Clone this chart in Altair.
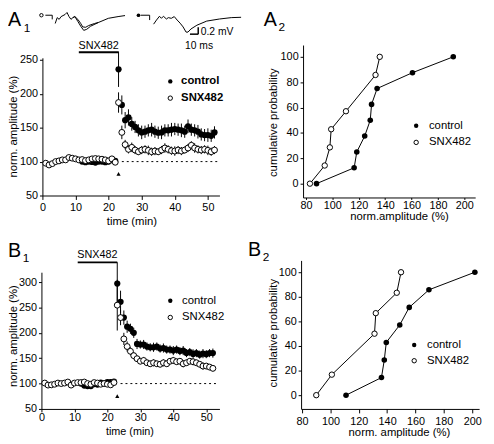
import altair as alt
import pandas as pd

FONT = "Liberation Sans"
W_ALL, H_ALL = 486, 436   # drawing area (page minus the 8px margin)

# ---------------- A1: time course ----------------
a1_snx_t = list(range(1, 53))
a1_snx = [97.6, 95, 97, 100, 101, 102.5, 102.5, 106, 105, 104, 102.5, 103, 101.5, 102.5, 104, 104.5, 104, 103.5, 102.5, 101, 104, 99,
          187, 143, 125, 118, 121, 117, 114.5, 117, 118, 116.5, 114.5, 115.5, 114.5, 117, 120, 118, 116, 115.5, 117, 115.5,
          117, 120, 124, 120, 118, 117, 118, 116.5, 114.5, 117]
a1_snx_e = [2, 2, 2, 2, 2, 2, 2, 2, 2, 2, 2, 2, 2, 2, 2, 2, 2, 2, 2, 2, 2, 2,
            15, 10, 7, 6, 7, 6, 5, 6, 6, 7, 6, 6, 5, 6, 7, 6, 6, 7, 6, 6, 5, 6, 6, 7, 6, 6, 6, 7, 6, 6]
a1_ctl_t = list(range(12, 53))
a1_ctl = [100, 99, 100, 99.5, 98.5, 100, 100, 99, 100, 102, 101,
          236, 183.5, 161, 165, 155.5, 151, 146, 143, 144, 146, 147, 144, 142.5, 143, 146, 146, 147, 148, 147, 146,
          144, 152, 147, 146, 144, 140, 139, 139, 138, 143]
a1_ctl_e = [3, 3, 3, 3, 3, 3, 3, 3, 3, 3, 3,
            26, 14, 12, 12, 10, 9, 9, 10, 9, 9, 10, 9, 9, 10, 9, 9, 10, 9, 9, 10, 9, 10, 9, 9, 10, 9, 9, 10, 9, 9]

# ---------------- B1: time course ----------------
b1_snx_t = list(range(1, 53))
b1_snx = [101, 97, 97.5, 98.7, 101, 100, 101, 103, 97, 101, 102, 102, 103, 100, 98.7, 102, 101, 98.7, 100, 98.7, 97.5, 102,
          254.5, 230, 188, 173, 163.6, 155, 149, 144, 145.5, 141, 139, 141, 139, 138, 141, 139, 144, 145.5, 143, 144,
          139, 141, 144, 143, 141, 138, 134.5, 134.5, 132.5, 130]
b1_snx_e = [2.5, 2.5, 2.5, 2.5, 2.5, 2.5, 2.5, 2.5, 2.5, 2.5, 2.5, 2.5, 2.5, 2.5, 2.5, 2.5, 2.5, 2.5, 2.5, 2.5, 2.5, 2.5,
            50, 15, 12, 10, 8, 7, 6, 6, 7, 6, 6, 7, 6, 6, 7, 6, 6, 7, 6, 6, 7, 6, 6, 7, 6, 6, 7, 6, 6, 6]
b1_ctl_t = list(range(12, 53))
b1_ctl = [100, 96, 95, 95, 99, 98, 102, 101, 103, 103, 104,
          297, 261, 230, 212, 208, 200, 178, 177, 177, 173, 171.5, 171.5, 173, 169, 170, 167, 167, 165, 167, 164,
          165, 160, 162, 158.5, 160, 157, 159, 158, 160, 160]
b1_ctl_e = [3, 3, 3, 3, 3, 3, 3, 3, 3, 3, 3,
            42, 22, 14, 12, 10, 10, 10, 8, 9, 8, 8, 9, 8, 8, 9, 8, 8, 9, 8, 8, 9, 8, 8, 9, 8, 8, 9, 8, 8, 9]

# ---------------- A2 / B2: cumulative probability ----------------
a2_ctl_x = [88, 116.5, 118.5, 124.5, 128.7, 129.7, 133.9, 160.7, 191.6]
a2_ctl_p = [0, 12.5, 25, 37.5, 50, 62.5, 75, 87.5, 100]
a2_snx_x = [83, 94.2, 98.1, 99.1, 110.3, 132.7, 135.9]
a2_snx_p = [0, 14.3, 28.6, 42.9, 57.1, 85.7, 100]

b2_ctl_x = [111, 136, 138, 139.4, 148.9, 155.6, 169.5, 201.9]
b2_ctl_p = [0, 14.3, 28.6, 42.9, 57.1, 71.4, 85.7, 100]
b2_snx_x = [90, 101, 131.1, 132, 146.8, 149.8]
b2_snx_p = [0, 16.7, 50, 66.7, 83.3, 100]

# ---------------- A1 inset traces (ms, mV) ----------------
tr1_t = [0, 8.3, 8.3,
         11.9, 14.3, 16.7, 19, 23.8, 26.2, 28.6, 31, 33.3, 35.7, 39.3, 42.8, 46.4, 50, 54.7, 64.3, 76.2, 88, 96.4,
         33.3, 35.7, 39.3, 42.8, 45.2, 48.8, 52.4, 59.5, 64.3]
tr1_v = [0, 0, -0.12,
         -0.24, -0.07, -0.12, -0.04, 0.02, 0.08, -0.04, -0.12, -0.07, -0.04, -0.18, -0.32, -0.44, -0.41, -0.32, -0.21,
         -0.09, -0.04, -0.01,
         -0.07, -0.04, -0.12, -0.24, -0.34, -0.35, -0.3, -0.24, -0.21]
tr1_seg = ["a"] * 3 + ["b"] * 19 + ["c"] * 9
tr2_t = [0, 10.7, 10.7,
         15.5, 19, 22.6, 25, 27.4, 31, 33.3, 36.9, 40.5, 44, 47.6, 51.2, 54.8, 57.1, 60.7, 67.9, 79.8, 95.2, 109.5, 121.4]
tr2_v = [0, 0, -0.14,
         -0.26, -0.14, -0.03, -0.09, -0.03, -0.11, -0.07, -0.09, -0.04, -0.14, -0.23, -0.34, -0.49, -0.49, -0.4, -0.29,
         -0.17, -0.11, -0.07, -0.06]
tr2_seg = ["d"] * 3 + ["e"] * 20
TR2_SHIFT = 115.5


def P(v):
    """page pixel -> drawing-area pixel"""
    return v - 8


def errdf(t, v, e):
    return pd.DataFrame({"t": t, "v": v, "lo": [a - b for a, b in zip(v, e)], "hi": [a + b for a, b in zip(v, e)]})


ONE = pd.DataFrame({"a": [0]})


def txt(s, x, y, size=11.5, align="left", baseline="middle", angle=0, weight="normal"):
    return alt.Chart(ONE).mark_text(text=s, fontSize=size, align=align, baseline=baseline, font=FONT,
                                    angle=angle, fontWeight=weight, color="black").encode(
        x=alt.value(P(x)), y=alt.value(P(y)))


def dot(x, y, filled, size=20):
    if filled:
        m = alt.Chart(ONE).mark_circle(size=size, color="black", opacity=1)
    else:
        m = alt.Chart(ONE).mark_circle(size=size, fill="white", stroke="black", strokeWidth=1, opacity=1)
    return m.encode(x=alt.value(P(x)), y=alt.value(P(y)))


def legend(x, y1, y2, tx, weight="normal"):
    return [dot(x, y1, True), txt("control", tx, y1, weight=weight),
            dot(x, y2, False), txt("SNX482", tx, y2, weight=weight)]


def panel_label(letter, sub, x, y, sx, sy):
    return [txt(letter, x, y, size=20, baseline="alphabetic"),
            txt(sub, sx, sy, size=12, baseline="alphabetic")]


def axes(xdom, xr, ydom, yr, xvals, yvals, xt, xp, yt=3, yp=2):
    xs = alt.Scale(domain=xdom, range=[P(xr[0]), P(xr[1])], nice=False, zero=False)
    ys = alt.Scale(domain=ydom, range=[P(yr[0]), P(yr[1])], nice=False, zero=False)
    xa = alt.Axis(orient="bottom", offset=-(H_ALL - P(yr[0])), values=xvals, title=None, tickSize=xt,
                  labelPadding=xp, labelFlush=False, labelOverlap=False)
    ya = alt.Axis(orient="left", offset=-P(xr[0]), values=yvals, title=None, tickSize=yt,
                  labelPadding=yp, labelFlush=False, labelOverlap=False)
    return xs, ys, xa, ya


def time_panel(snx_t, snx_v, snx_e, ctl_t, ctl_v, ctl_e, xdom, xr, ydom, yr, yvals, xt, xp,
               bar_y, bar_txt_y, tri_y, extra):
    xs, ys, xa, ya = axes(xdom, xr, ydom, yr, [0, 10, 20, 30, 40, 50], yvals, xt, xp)
    X = lambda f: alt.X(f, scale=xs, axis=xa)
    Y = lambda f: alt.Y(f, scale=ys, axis=ya)
    dctl = errdf(ctl_t, ctl_v, ctl_e)
    dsnx = errdf(snx_t, snx_v, snx_e)
    ctl_err = alt.Chart(dctl).mark_rule(color="black", strokeWidth=1).encode(x=X("t:Q"), y=Y("lo:Q"), y2="hi:Q")
    ctl_pts = alt.Chart(dctl).mark_circle(size=40, color="black", opacity=1).encode(x=X("t:Q"), y=Y("v:Q"))
    snx_err = alt.Chart(dsnx).mark_rule(color="black", strokeWidth=1).encode(x=X("t:Q"), y=Y("lo:Q"), y2="hi:Q")
    snx_pts = alt.Chart(dsnx).mark_circle(size=36, fill="white", stroke="black", strokeWidth=1,
                                          opacity=1).encode(x=X("t:Q"), y=Y("v:Q"))
    base = alt.Chart(pd.DataFrame({"x1": [24], "x2": [53], "y": [100]})).mark_rule(
        color="black", strokeDash=[2, 3], strokeWidth=1).encode(x=X("x1:Q"), x2="x2:Q", y=Y("y:Q"))
    bar = alt.Chart(pd.DataFrame({"x1": [11], "x2": [23], "y": [bar_y]})).mark_rule(
        color="black", strokeWidth=2).encode(x=X("x1:Q"), x2="x2:Q", y=Y("y:Q"))
    bar_txt = alt.Chart(pd.DataFrame({"x": [17], "y": [bar_txt_y]})).mark_text(
        text="SNX482", fontSize=11, font=FONT, color="black", baseline="middle").encode(x=X("x:Q"), y=Y("y:Q"))
    tri = alt.Chart(pd.DataFrame({"x": [23], "y": [tri_y]})).mark_point(
        shape="triangle-up", filled=True, size=18, color="black", opacity=1).encode(x=X("x:Q"), y=Y("y:Q"))
    return alt.layer(base, bar, bar_txt, tri, ctl_err, ctl_pts, snx_err, snx_pts, *extra)


def cum_panel(cx, cp, sx, sp, xdom, xr, ydom, yr, xt, xp, extra):
    xs, ys, xa, ya = axes(xdom, xr, ydom, yr, [80, 100, 120, 140, 160, 180, 200], [0, 20, 40, 60, 80, 100], xt, xp)
    X = alt.X("x:Q", scale=xs, axis=xa)
    Y = alt.Y("p:Q", scale=ys, axis=ya)
    dc = pd.DataFrame({"x": cx, "p": cp})
    ds = pd.DataFrame({"x": sx, "p": sp})
    lc = alt.Chart(dc).mark_line(color="black", strokeWidth=1).encode(x=X, y=Y, order="p:Q")
    ls = alt.Chart(ds).mark_line(color="black", strokeWidth=1).encode(x=X, y=Y, order="p:Q")
    pc = alt.Chart(dc).mark_circle(size=32, color="black", opacity=1).encode(x=X, y=Y)
    ps = alt.Chart(ds).mark_circle(size=30, fill="white", stroke="black", strokeWidth=1, opacity=1).encode(x=X, y=Y)
    return alt.layer(lc, ls, pc, ps, *extra)


# ---------- A1 (page coords: x 43-223, y 55-195) ----------
A1 = time_panel(a1_snx_t, a1_snx, a1_snx_e, a1_ctl_t, a1_ctl, a1_ctl_e,
                [0, 53.5], [43, 223], [50, 252.9], [195, 55], [50, 100, 150, 200, 250], 4, 2,
                261.2, 270, 81.9,
                legend(173, 79, 96, 184, weight="bold")
                + panel_label("A", "1", 8, 23, 24, 29)
                + [txt("time (min)", 134, 222, align="center"),
                   txt("norm. amplitude (%)", 14, 125, align="center", angle=270)])

# ---------- B1 (page coords: x 42-223, y 273-412) ----------
B1 = time_panel(b1_snx_t, b1_snx, b1_snx_e, b1_ctl_t, b1_ctl, b1_ctl_e,
                [0, 54], [42, 223], [50, 319.4], [412, 273], [50, 100, 150, 200, 250, 300], 3, 0,
                338.8, 354, 75.2,
                legend(173, 302, 319, 185)
                + panel_label("B", "1", 8, 258, 23, 263)
                + [txt("time (min)", 132, 435, size=11, align="center"),
                   txt("norm. amplitude (%)", 14, 338, align="center", angle=270)])

# ---------- A2 (page coords: x 308-483, y 42-197) ----------
A2 = cum_panel(a2_ctl_x, a2_ctl_p, a2_snx_x, a2_snx_p,
               [77.8, 208.2], [308, 483], [-10.9, 109.3], [197, 42], 2, 0,
               legend(423, 124, 141, 436)
               + panel_label("A", "2", 268, 23, 283, 28)
               + [txt("norm.amplitude (%)", 406, 217, align="center"),
                  txt("cumulative probability", 279, 121, align="center", angle=270)])

# ---------- B2 (page coords: x 306-487, y 261-412) ----------
B2 = cum_panel(b2_ctl_x, b2_ctl_p, b2_snx_x, b2_snx_p,
               [79.3, 204.9], [306, 487], [-11.2, 109.6], [412, 261], 4, 3,
               legend(421, 347, 363, 434)
               + panel_label("B", "2", 252, 257, 267, 262)
               + [txt("norm. amplitude (%)", 406, 437, align="center"),
                  txt("cumulative probability", 278, 335, align="center", angle=270)])

# ---------- inset traces above A1 (own scales, ms and mV) ----------
tx = alt.Scale(domain=[0, 100], range=[P(46), P(46) + 84])
ty = alt.Scale(domain=[-0.5, 0], range=[P(11.7) + 17.5, P(11.7)])
TX = alt.X("ms:Q", scale=tx, axis=None)
TY = alt.Y("mv:Q", scale=ty, axis=None)
trdf = pd.DataFrame({"ms": tr1_t + [a + TR2_SHIFT for a in tr2_t],
                     "mv": tr1_v + tr2_v,
                     "seg": tr1_seg + tr2_seg})
tr_lines = alt.Chart(trdf).mark_line(color="black", strokeWidth=1).encode(
    x=TX, y=TY, detail="seg:N", order=alt.Order("ms:Q"))
tr_m1 = alt.Chart(pd.DataFrame({"ms": [-4.8], "mv": [0]})).mark_circle(
    size=12, fill="white", stroke="black", strokeWidth=1, opacity=1).encode(x=TX, y=TY)
tr_m2 = alt.Chart(pd.DataFrame({"ms": [112.7], "mv": [0]})).mark_circle(
    size=14, color="black", opacity=1).encode(x=TX, y=TY)
sb_h = alt.Chart(pd.DataFrame({"ms": [175], "ms2": [185], "mv": [-0.55]})).mark_rule(
    color="black", strokeWidth=1.5).encode(x=TX, x2="ms2:Q", y=TY)
sb_v = alt.Chart(pd.DataFrame({"ms": [185], "mv": [-0.55], "mv2": [-0.35]})).mark_rule(
    color="black", strokeWidth=1.5).encode(x=TX, y=TY, y2="mv2:Q")
sb_t1 = alt.Chart(pd.DataFrame({"ms": [188], "mv": [-0.5]})).mark_text(
    text="0.2 mV", fontSize=10.5, font=FONT, align="left", baseline="middle", color="black").encode(x=TX, y=TY)
sb_t2 = alt.Chart(pd.DataFrame({"ms": [186], "mv": [-0.9]})).mark_text(
    text="10 ms", fontSize=10.5, font=FONT, align="center", baseline="middle", color="black").encode(x=TX, y=TY)
traces = alt.layer(tr_lines, tr_m1, tr_m2, sb_h, sb_v, sb_t1, sb_t2)

chart = alt.layer(A1, B1, A2, B2, traces).resolve_scale(
    x="independent", y="independent"
).properties(
    width=W_ALL, height=H_ALL, padding=0, autosize=alt.AutoSizeParams(type="none")
).configure_axis(
    grid=False, domainColor="black", tickColor="black", labelColor="black",
    labelFont=FONT, labelFontSize=11, domainWidth=1, tickWidth=1
).configure_view(stroke=None)

chart.save("out.html", embed_options={"renderer": "svg", "actions": False})
